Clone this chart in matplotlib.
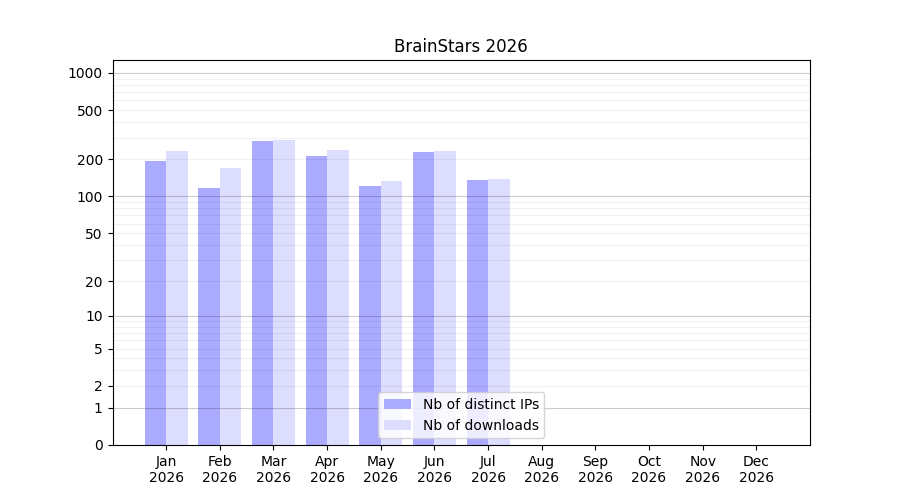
import numpy as np
import matplotlib
matplotlib.use("Agg")
import matplotlib.pyplot as plt
from matplotlib.ticker import FixedLocator

months = ["Jan", "Feb", "Mar", "Apr", "May", "Jun", "Jul", "Aug", "Sep", "Oct", "Nov", "Dec"]
year = "2026"
distinct_ips = [194, 117, 282, 213, 122, 230, 136, 0, 0, 0, 0, 0]
downloads = [235, 170, 287, 238, 134, 235, 139, 0, 0, 0, 0, 0]
ytick_values = [0, 1, 2, 5, 10, 20, 50, 100, 200, 500, 1000]
major_grid = [1, 10, 100, 1000]
minor_grid = [2, 3, 4, 5, 6, 7, 8, 9, 20, 30, 40, 50, 60, 70, 80, 90,
              200, 300, 400, 500, 600, 700, 800, 900]

fig, ax = plt.subplots(figsize=(9, 5), dpi=100)
x = np.arange(len(months))
w = 0.4
ax.bar(x - w / 2, distinct_ips, width=w, color="#aaaaff", label="Nb of distinct IPs", zorder=1)
ax.bar(x + w / 2, downloads, width=w, color="#ddddff", label="Nb of downloads", zorder=1)

ax.set_yscale("function", functions=(lambda v: np.log10(1 + np.maximum(v, 0)),
                                     lambda v: 10 ** v - 1))
ax.set_ylim(0, 1272)
ax.set_xlim(-1, 12)
ax.yaxis.set_major_locator(FixedLocator(ytick_values))
ax.set_yticklabels([str(v) for v in ytick_values])
ax.yaxis.set_minor_locator(FixedLocator([]))
for v in major_grid:
    ax.axhline(v, color="#000000", alpha=0.2, linewidth=0.8, zorder=2)
for v in minor_grid:
    ax.axhline(v, color="#000000", alpha=0.06, linewidth=0.8, zorder=2)

ax.set_xticks(x)
ax.set_xticklabels([f"{m}\n{year}" for m in months])
ax.set_title("BrainStars 2026")
leg = ax.legend(loc="lower center")
leg.set_zorder(5)
fig.savefig("out.png")
